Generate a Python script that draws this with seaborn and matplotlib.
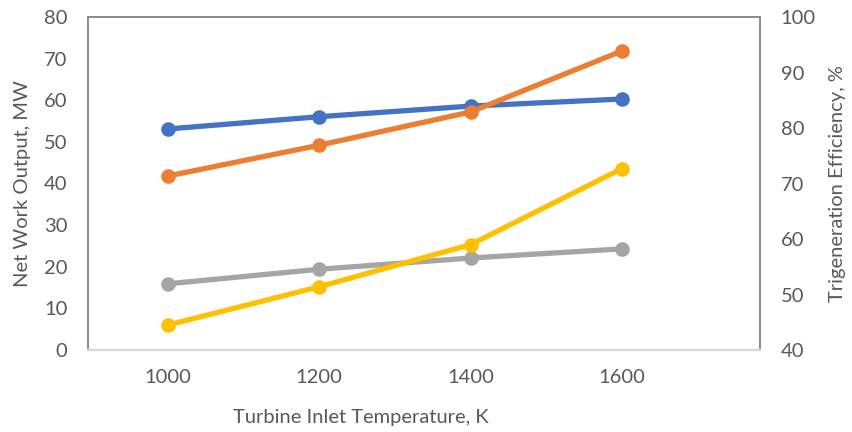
import matplotlib
matplotlib.use("Agg")
import matplotlib.pyplot as plt
import seaborn as sns
import pandas as pd

temperature = [1000, 1200, 1400, 1600]
net_work_a = [53.1, 56.05, 58.6, 60.3]
net_work_b = [15.9, 19.4, 22.1, 24.3]
efficiency_a = [71.35, 76.9, 82.9, 93.9]
efficiency_b = [44.5, 51.4, 59.0, 72.7]

left_ticks = [0, 10, 20, 30, 40, 50, 60, 70, 80]
right_ticks = [40, 50, 60, 70, 80, 90, 100]

sns.set_style("white")
plt.rcParams['font.family'] = ['Lato', 'DejaVu Sans']

TXT = "#595959"
fig = plt.figure(figsize=(8.53, 4.32), dpi=100)
ax = fig.add_axes([88.3/853, 82/432, (760-88.3)/853, (350-17)/432])
ax2 = ax.twinx()

lw, ms = 3.8, 10.5
sns.lineplot(x=temperature, y=net_work_a, ax=ax, color="#4472C4", marker="o",
             linewidth=lw, markersize=ms, markeredgewidth=0)
sns.lineplot(x=temperature, y=net_work_b, ax=ax, color="#A5A5A5", marker="o",
             linewidth=lw, markersize=ms, markeredgewidth=0)
sns.lineplot(x=temperature, y=efficiency_a, ax=ax2, color="#ED7D31", marker="o",
             linewidth=lw, markersize=ms, markeredgewidth=0)
sns.lineplot(x=temperature, y=efficiency_b, ax=ax2, color="#FFC000", marker="o",
             linewidth=lw, markersize=ms, markeredgewidth=0)

ax.set_xlim(895, 1782)
ax.set_ylim(0, 80)
ax2.set_ylim(40, 100)
ax.set_xticks(temperature)
ax.set_xticklabels([str(t) for t in temperature])
ax.set_yticks(left_ticks)
ax2.set_yticks(right_ticks)

fs = 14.5
for a in (ax, ax2):
    a.tick_params(axis="both", length=0, labelsize=fs, labelcolor=TXT)
    for s in a.spines.values():
        s.set_color("#898989")
        s.set_linewidth(1.2)
    a.spines["bottom"].set_color("#D9D9D9")
    a.spines["bottom"].set_linewidth(1.6)
    a.grid(False)
ax.tick_params(axis="y", pad=15)
ax2.tick_params(axis="y", pad=15)
ax.tick_params(axis="x", pad=14)

W, H = 760 - 88.3, 350 - 17
ax.set_xlabel("Turbine Inlet Temperature, K", fontsize=14.5, color=TXT, va="center")
ax.xaxis.set_label_coords((361 - 88.3) / W, (350 - 418) / H)
ax.set_ylabel("Net Work Output, MW", fontsize=14.5, color=TXT, va="center")
ax.yaxis.set_label_coords((23 - 88.3) / W, 0.5)
ax2.set_ylabel("Trigeneration Efficiency, %", fontsize=14.5, color=TXT, va="center")
ax2.yaxis.set_label_coords((837 - 88.3) / W, 0.5)

fig.savefig("out.png", dpi=100)
